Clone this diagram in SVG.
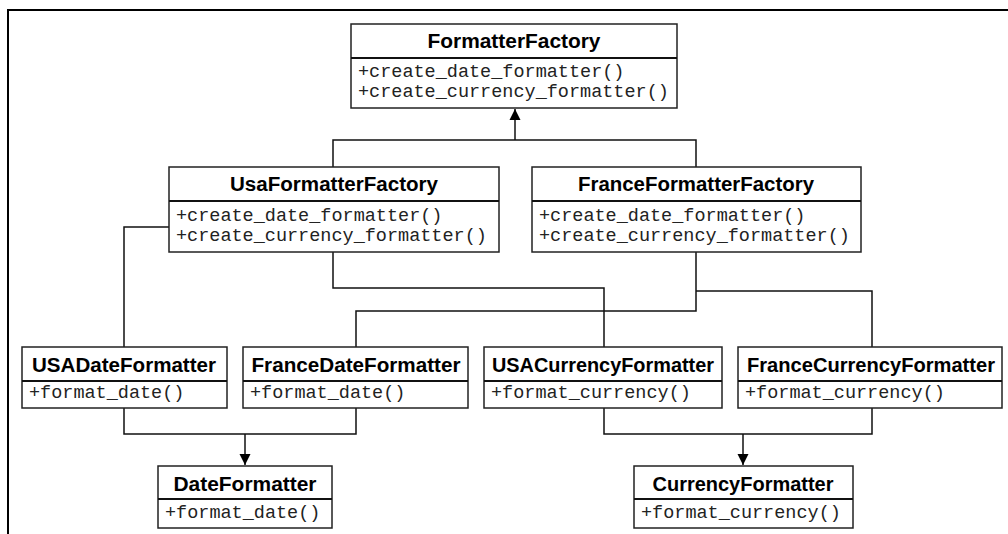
<svg xmlns="http://www.w3.org/2000/svg" width="1008" height="534" viewBox="0 0 1008 534">
<defs>
<style>
.box{fill:#fff;stroke:#222;stroke-width:1.5}
.sep{stroke:#111;stroke-width:2}
.t{font-family:"Liberation Sans",Arial,sans-serif;font-weight:bold;font-size:19.5px;fill:#000;text-anchor:middle}
.m{font-family:"Liberation Mono","Courier New",monospace;font-size:18.5px;fill:#222}
.c{fill:none;stroke:#111;stroke-width:1.5}
</style>
<marker id="arr" markerUnits="userSpaceOnUse" markerWidth="12" markerHeight="12" refX="11" refY="6" orient="auto">
<path d="M0,0.5 L11,6 L0,11.5 Z" fill="#000"/>
</marker>
</defs>
<rect width="1008" height="534" fill="#fff"/>
<path d="M8,534 V10 H1008" fill="none" stroke="#000" stroke-width="2"/>

<g id="connectors">
<path class="c" d="M333,167 V140 H696 V167"/>
<path class="c" d="M515,140 V109" marker-end="url(#arr)"/>
<path class="c" d="M169,227 H124 V347"/>
<path class="c" d="M333,252 V288 H604 V347"/>
<path class="c" d="M696,252 V311 H356 V347"/>
<path class="c" d="M696,291 H872 V347"/>
<path class="c" d="M124,408 V434 H356 V408"/>
<path class="c" d="M245,434 V465" marker-end="url(#arr)"/>
<path class="c" d="M604,408 V434 H872 V408"/>
<path class="c" d="M743,434 V465" marker-end="url(#arr)"/>
</g>

<g id="FormatterFactory">
<rect class="box" x="351" y="24" width="326" height="84"/>
<line class="sep" x1="351" y1="58" x2="677" y2="58"/>
<text class="t" x="514" y="48" textLength="173" lengthAdjust="spacingAndGlyphs">FormatterFactory</text>
<text class="m" x="358" y="77">+create_date_formatter()</text>
<text class="m" x="358" y="97">+create_currency_formatter()</text>
</g>

<g id="UsaFormatterFactory">
<rect class="box" x="169" y="167" width="330" height="85"/>
<line class="sep" x1="169" y1="201" x2="499" y2="201"/>
<text class="t" x="334" y="191" textLength="208" lengthAdjust="spacingAndGlyphs">UsaFormatterFactory</text>
<text class="m" x="176" y="221">+create_date_formatter()</text>
<text class="m" x="176" y="241">+create_currency_formatter()</text>
</g>

<g id="FranceFormatterFactory">
<rect class="box" x="532" y="167" width="329" height="85"/>
<line class="sep" x1="532" y1="201" x2="861" y2="201"/>
<text class="t" x="696" y="191" textLength="236" lengthAdjust="spacingAndGlyphs">FranceFormatterFactory</text>
<text class="m" x="539" y="221">+create_date_formatter()</text>
<text class="m" x="539" y="241">+create_currency_formatter()</text>
</g>

<g id="USADateFormatter">
<rect class="box" x="22" y="347" width="205" height="61"/>
<line class="sep" x1="22" y1="381" x2="227" y2="381"/>
<text class="t" x="124" y="372" textLength="184" lengthAdjust="spacingAndGlyphs">USADateFormatter</text>
<text class="m" x="29" y="398">+format_date()</text>
</g>

<g id="FranceDateFormatter">
<rect class="box" x="243" y="347" width="225" height="61"/>
<line class="sep" x1="243" y1="381" x2="468" y2="381"/>
<text class="t" x="356" y="372" textLength="209" lengthAdjust="spacingAndGlyphs">FranceDateFormatter</text>
<text class="m" x="250" y="398">+format_date()</text>
</g>

<g id="USACurrencyFormatter">
<rect class="box" x="484" y="347" width="238" height="61"/>
<line class="sep" x1="484" y1="381" x2="722" y2="381"/>
<text class="t" x="603" y="372" textLength="222" lengthAdjust="spacingAndGlyphs">USACurrencyFormatter</text>
<text class="m" x="491" y="398">+format_currency()</text>
</g>

<g id="FranceCurrencyFormatter">
<rect class="box" x="738" y="347" width="264" height="61"/>
<line class="sep" x1="738" y1="381" x2="1002" y2="381"/>
<text class="t" x="871" y="372" textLength="248" lengthAdjust="spacingAndGlyphs">FranceCurrencyFormatter</text>
<text class="m" x="745" y="398">+format_currency()</text>
</g>

<g id="DateFormatter">
<rect class="box" x="158" y="466" width="174" height="62"/>
<line class="sep" x1="158" y1="499" x2="332" y2="499"/>
<text class="t" x="245" y="491" textLength="143" lengthAdjust="spacingAndGlyphs">DateFormatter</text>
<text class="m" x="165" y="518">+format_date()</text>
</g>

<g id="CurrencyFormatter">
<rect class="box" x="634" y="466" width="219" height="62"/>
<line class="sep" x1="634" y1="499" x2="853" y2="499"/>
<text class="t" x="743" y="491" textLength="181" lengthAdjust="spacingAndGlyphs">CurrencyFormatter</text>
<text class="m" x="641" y="518">+format_currency()</text>
</g>
</svg>
